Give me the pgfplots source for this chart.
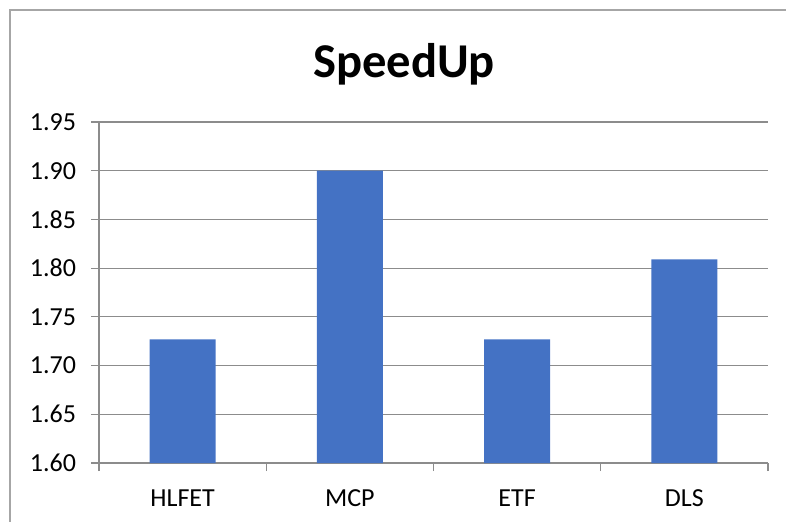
\documentclass[border=0pt]{standalone}
\usepackage{pgfplots}
\pgfplotsset{compat=1.18}
\usepackage{fontspec}
\setmainfont{Carlito}
\definecolor{barblue}{HTML}{4472C4}
\definecolor{gridgray}{HTML}{8C8C8C}
\definecolor{bordergray}{HTML}{A6A6A6}
\begin{document}
\begin{tikzpicture}[x=1pt,y=1pt]
\useasboundingbox (0,0) rectangle (393,-260.5);
\draw[bordergray, line width=0.8pt] (5,-265) -- (5,-5) -- (400,-5);
\node[anchor=base, font=\fontsize{24.3}{29}\selectfont\bfseries] at (202,-38.5) {SpeedUp};
\begin{axis}[
  at={(49.5pt,-231.5pt)}, anchor=south west,
  scale only axis, width=334.5pt, height=170.5pt,
  xmin=-0.5, xmax=3.5, ymin=1.60, ymax=1.95,
  axis x line=bottom, axis y line=left,
  axis line style={gridgray, line width=0.6pt, -},
  xtick={0,1,2,3}, xticklabels={HLFET,MCP,ETF,DLS},
  x tick style={draw=none},
  extra x ticks={-0.5,0.5,1.5,2.5,3.5},
  extra x tick labels={},
  extra x tick style={x tick style={draw=gridgray, line width=0.6pt}, major tick length=4pt, tick align=outside, grid=none},
  ytick distance=0.05,
  y tick style={draw=gridgray, line width=0.6pt},
  major tick length=4pt, tick align=outside,
  ymajorgrids, grid style={gridgray, line width=0.6pt},
  /pgf/number format/assume math mode=true,
  yticklabel={\pgfmathprintnumber[fixed,fixed zerofill,precision=2]{\tick}},
  tick label style={font=\fontsize{13}{15}\selectfont},
  xticklabel style={yshift=-6pt},
  yticklabel style={xshift=-4pt},
  bar width=33pt,
]
\addplot[ybar, fill=barblue, draw=none, bar shift=0pt] coordinates {(0,1.727) (1,1.900) (2,1.727) (3,1.809)};
\end{axis}
\end{tikzpicture}
\end{document}
